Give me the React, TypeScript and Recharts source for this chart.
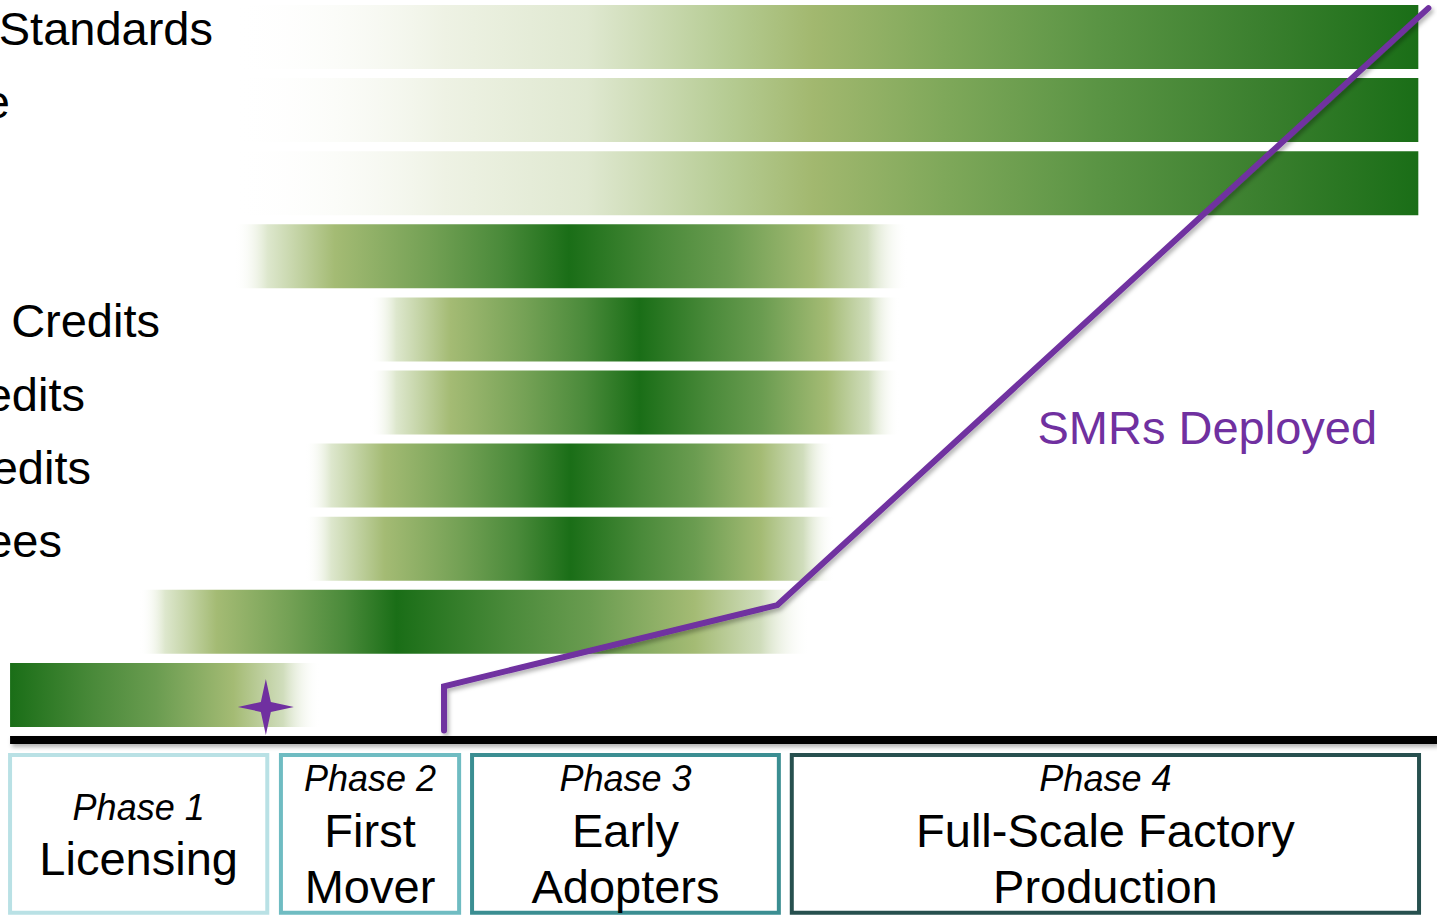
import {
  Bar,
  Cell,
  ComposedChart,
  LabelList,
  Line,
  ReferenceArea,
  ReferenceDot,
  ReferenceLine,
  Scatter,
  XAxis,
  YAxis,
} from "recharts";

// timeline runs 0..100 across the page
const rowIds = ["r1", "r2", "r3", "r4", "r5", "r6", "r7", "r8", "r9", "r10"];
const rowLabels = ["Standards", "e", "", "", "Credits", "edits", "edits", "ees", "", ""];
const barStart = [16.1, 16.1, 16.1, 16.3, 25.7, 25.7, 21.2, 21.2, 9.7, 0.7];
const barEnd = [98.7, 98.7, 98.7, 63.2, 62.6, 62.6, 58.1, 58.1, 56.4, 22.3];
const barPeak = [98.7, 98.7, 98.7, 39.6, 44.5, 44.5, 39.7, 39.7, 27.6, 0.7];

// SMRs deployed curve
const smrX = [30.9, 30.9, 54.1, 99.4];
const smrY = [1, 7, 18, 98.9];

const licenceMark = [{ x: 18.5, smr: 4.2 }];

const phaseNames = ["Phase 1", "Phase 2", "Phase 3", "Phase 4"];
const phaseTitles = [["Licensing"], ["First", "Mover"], ["Early", "Adopters"], ["Full-Scale Factory", "Production"]];
const phaseFrom = [0.7, 19.55, 32.85, 55.1];
const phaseTo = [18.6, 31.95, 54.2, 98.75];

const W = 1437;
const H = 915;
const FONT = "'Liberation Sans', Arial, sans-serif";
const PURPLE = "#7030a0";
const phaseStroke = ["#b9e1e5", "#6fbcc2", "#3b8e92", "#27504f"];
const LABEL_END = [213, 10, 0, 0, 160, 85, 91, 62, 0, 0];

type Stop = [number, string, number?];
const RAMP: Stop[] = [
  [0, "#ffffff", 0],
  [0.18, "#eef2e4"],
  [0.3, "#dfe8d0"],
  [0.42, "#b5cb92"],
  [0.49, "#a2b86f"],
  [0.6, "#7fa85a"],
  [0.73, "#5a9444"],
  [0.87, "#3a7f2e"],
  [1, "#1a6e17"],
];
const RISE: Stop[] = [
  [0, "#ffffff", 0],
  [0.1, "#dde7cd"],
  [0.3, "#a4bb74"],
  [0.58, "#74a155"],
  [0.8, "#4a8a3a"],
  [1, "#1a6e17"],
];
const FALL: Stop[] = [
  [0, "#1a6e17"],
  [0.27, "#4a8a3a"],
  [0.47, "#6a9c50"],
  [0.72, "#a4bb74"],
  [0.88, "#d0ddbc"],
  [1, "#ffffff", 0],
];

function stopsFor(i: number): Stop[] {
  const p = (barPeak[i] - barStart[i]) / (barEnd[i] - barStart[i]);
  if (p >= 0.999) return RAMP;
  const left: Stop[] = p <= 0.001 ? [] : RISE.map(([o, c, a]) => [o * p, c, a] as Stop);
  const right: Stop[] = FALL.map(([o, c, a]) => [p + o * (1 - p), c, a] as Stop);
  return [...left, ...right];
}

const barData = rowIds.map((id, i) => ({ id, label: rowLabels[i], span: [barStart[i], barEnd[i]] }));
const smrData = smrX.map((x, i) => ({ x, smr: smrY[i] }));

function RowLabel(props: any) {
  const i = props.index;
  if (!rowLabels[i]) return null;
  const cy = props.y + props.height / 2;
  return (
    <text x={LABEL_END[i]} y={cy + 8} textAnchor="end" fontSize={47} fontFamily={FONT} fill="#000">
      {rowLabels[i]}
    </text>
  );
}

function PhaseText({ viewBox, i }: { viewBox: any; i: number }) {
  const cx = viewBox.x + viewBox.width / 2;
  const top = viewBox.y;
  const single = phaseTitles[i].length === 1;
  const base = single ? [65, 120] : [36, 92, 148];
  return (
    <g fontFamily={FONT} textAnchor="middle" fill="#000">
      <text x={cx} y={top + base[0]} fontSize={36} fontStyle="italic">
        {phaseNames[i]}
      </text>
      {phaseTitles[i].map((t, k) => (
        <text key={t} x={cx} y={top + base[k + 1]} fontSize={47}>
          {t}
        </text>
      ))}
    </g>
  );
}

function Sparkle(props: any) {
  const { cx, cy } = props;
  return (
    <path
      d={`M${cx} ${cy - 28} L${cx + 5} ${cy - 5} L${cx + 28} ${cy} L${cx + 5} ${cy + 5} L${cx} ${cy + 28} L${cx - 5} ${cy + 5} L${cx - 28} ${cy} L${cx - 5} ${cy - 5} Z`}
      fill={PURPLE}
    />
  );
}

export default function App() {
  return (
    <div style={{ position: "absolute", left: 0, top: 0, width: W, height: H, overflow: "hidden", background: "#fff" }}>
      <div style={{ position: "absolute", left: 0, top: 0 }}>
        <ComposedChart
          width={W}
          height={731}
          data={barData}
          layout="vertical"
          margin={{ top: 0, right: 0, bottom: 0, left: 0 }}
        >
          <defs>
            {rowIds.map((id, i) => (
              <linearGradient key={id} id={`bar-${id}`} x1="0" y1="0" x2="1" y2="0">
                {stopsFor(i).map(([o, c, a], k) => (
                  <stop key={k} offset={o} stopColor={c} stopOpacity={a ?? 1} />
                ))}
              </linearGradient>
            ))}
          </defs>
          <XAxis type="number" domain={[0, 100]} hide allowDataOverflow />
          <YAxis type="category" dataKey="id" hide />
          <Bar dataKey="span" barSize={64} isAnimationActive={false}>
            {barData.map((d) => (
              <Cell key={d.id} fill={`url(#bar-${d.id})`} />
            ))}
            <LabelList dataKey="label" content={<RowLabel />} />
          </Bar>
        </ComposedChart>
      </div>
      <div style={{ position: "absolute", left: 0, top: 0 }}>
        <ComposedChart width={W} height={H} margin={{ top: 0, right: 0, bottom: 0, left: 0 }}>
          <defs>
            <filter id="softShadow" filterUnits="userSpaceOnUse" x="0" y="0" width={W} height={H}>
              <feDropShadow dx="2" dy="3" stdDeviation="2" floodColor="#000" floodOpacity="0.3" />
            </filter>
          </defs>
          <XAxis type="number" dataKey="x" domain={[0, 100]} hide allowDataOverflow />
          <YAxis type="number" dataKey="smr" domain={[-24, 100]} hide allowDataOverflow />
          <ReferenceLine
            segment={[
              { x: 0.7, y: -0.3 },
              { x: 100, y: -0.3 },
            ]}
            stroke="#000"
            strokeWidth={8}
            filter="url(#softShadow)"
          />
          {phaseNames.map((name, i) => (
            <ReferenceArea
              key={name}
              x1={phaseFrom[i]}
              x2={phaseTo[i]}
              y1={-23.7}
              y2={-2.3}
              fill="#fff"
              fillOpacity={1}
              stroke={phaseStroke[i]}
              strokeWidth={4}
              label={(p: any) => <PhaseText viewBox={p.viewBox} i={i} />}
            />
          ))}
          <Scatter data={licenceMark} shape={<Sparkle />} isAnimationActive={false} />
          <Line
            data={smrData}
            dataKey="smr"
            type="linear"
            stroke={PURPLE}
            strokeWidth={6}
            strokeLinecap="round"
            dot={false}
            activeDot={false}
            filter="url(#softShadow)"
            isAnimationActive={false}
          />
          <ReferenceDot
            x={72.2}
            y={39.8}
            r={0}
            shape={(p: any) => (
              <text x={p.cx} y={p.cy} fontSize={47} fontFamily={FONT} fill={PURPLE}>
                SMRs Deployed
              </text>
            )}
          />
        </ComposedChart>
      </div>
    </div>
  );
}
